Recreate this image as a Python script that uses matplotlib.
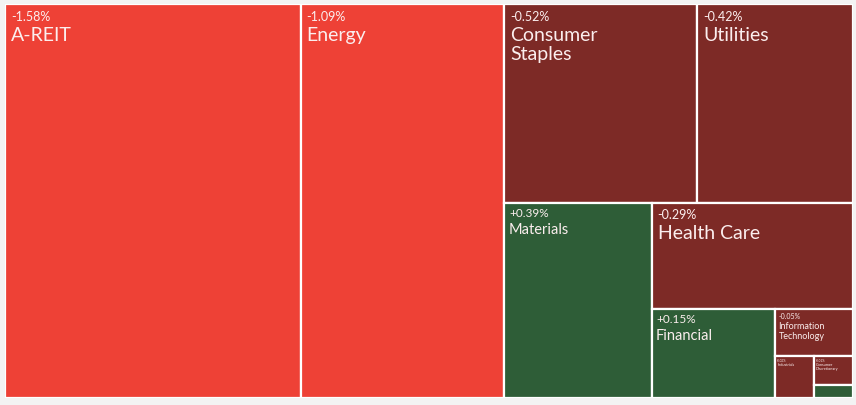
import matplotlib
matplotlib.use("Agg")
import matplotlib.pyplot as plt
from matplotlib.patches import Rectangle

plt.rcParams['font.family'] = ['Lato', 'DejaVu Sans']

# sector daily change (%), tile area = |change|
sectors = ["A-REIT", "Energy", "Consumer\nStaples", "Utilities", "Materials",
           "Health Care", "Financial", "Information\nTechnology", "Industrials",
           "Consumer\nDiscretionary", "Communication Services"]
changes = [-1.58, -1.09, -0.52, -0.42, 0.39, -0.29, 0.15, -0.05, -0.022, -0.015, 0.007]

# label font sizes (pct, name, padding) by tile size class
LABEL_STYLE = {
    "big": (9, 14, 2.0),
    "mid": (8.5, 10.5, 1.5),
    "small": (5, 6.5, 1.0),
    "tiny": (2.2, 2.8, 0.6),
}
tile_class = ["big", "big", "big", "big", "mid", "big", "mid", "small", "tiny", "tiny", None]

W, H = 100.0, 50.0  # layout domain


def worst(row, side):
    s = sum(row)
    t = s / side
    return max(max(t / (a / t), (a / t) / t) for a in row)


def squarify(areas, x, y, dx, dy):
    rects = []
    areas = list(areas)
    while areas:
        if len(areas) == 1:
            rects.append((x, y, dx, dy))
            break
        side = min(dx, dy)
        i = 1
        while i < len(areas) and worst(areas[:i], side) >= worst(areas[:i + 1], side):
            i += 1
        row, areas = areas[:i], areas[i:]
        s = sum(row)
        if dx >= dy:
            w = s / dy
            yy = y
            for a in row:
                h = a / w
                rects.append((x, yy, w, h))
                yy += h
            x += w
            dx -= w
        else:
            h = s / dx
            xx = x
            for a in row:
                w = a / h
                rects.append((xx, y, w, h))
                xx += w
            y += h
            dy -= h
    return rects


def tile_color(v):
    if v <= -1.0:
        return "#EE4136"
    if v < 0:
        return "#7D2A26"
    return "#2E5D37"


total = sum(abs(v) for v in changes)
areas = [abs(v) / total * W * H for v in changes]
rects = squarify(areas, 0, 0, W, H)

fig = plt.figure(figsize=(8.56, 4.06), dpi=100, facecolor="#f3f3f3")
ax = fig.add_axes([5 / 856, 7 / 406, 848 / 856, 394 / 406])
ax.set_xlim(0, W)
ax.set_ylim(H, 0)
ax.axis("off")

for name, v, (x, y, w, h), cls in zip(sectors, changes, rects, tile_class):
    ax.add_patch(Rectangle((x, y), w, h, facecolor=tile_color(v),
                           edgecolor="white", linewidth=1.6))
    if cls is None:
        continue
    pct_fs, name_fs, pad = LABEL_STYLE[cls]
    ax.annotate(f"{v:+.2f}%", xy=(x, y), xytext=(pad * 2.2, -pad * 2.0),
                textcoords="offset points", ha="left", va="top",
                fontsize=pct_fs, color="#fbeeee")
    ax.annotate(name, xy=(x, y), xytext=(pad * 2.2, -pad * 2.0 - pct_fs * 1.3),
                textcoords="offset points", ha="left", va="top",
                fontsize=name_fs, color="#fbeeee", linespacing=1.15)

fig.savefig("out.png", dpi=100, facecolor=fig.get_facecolor())
